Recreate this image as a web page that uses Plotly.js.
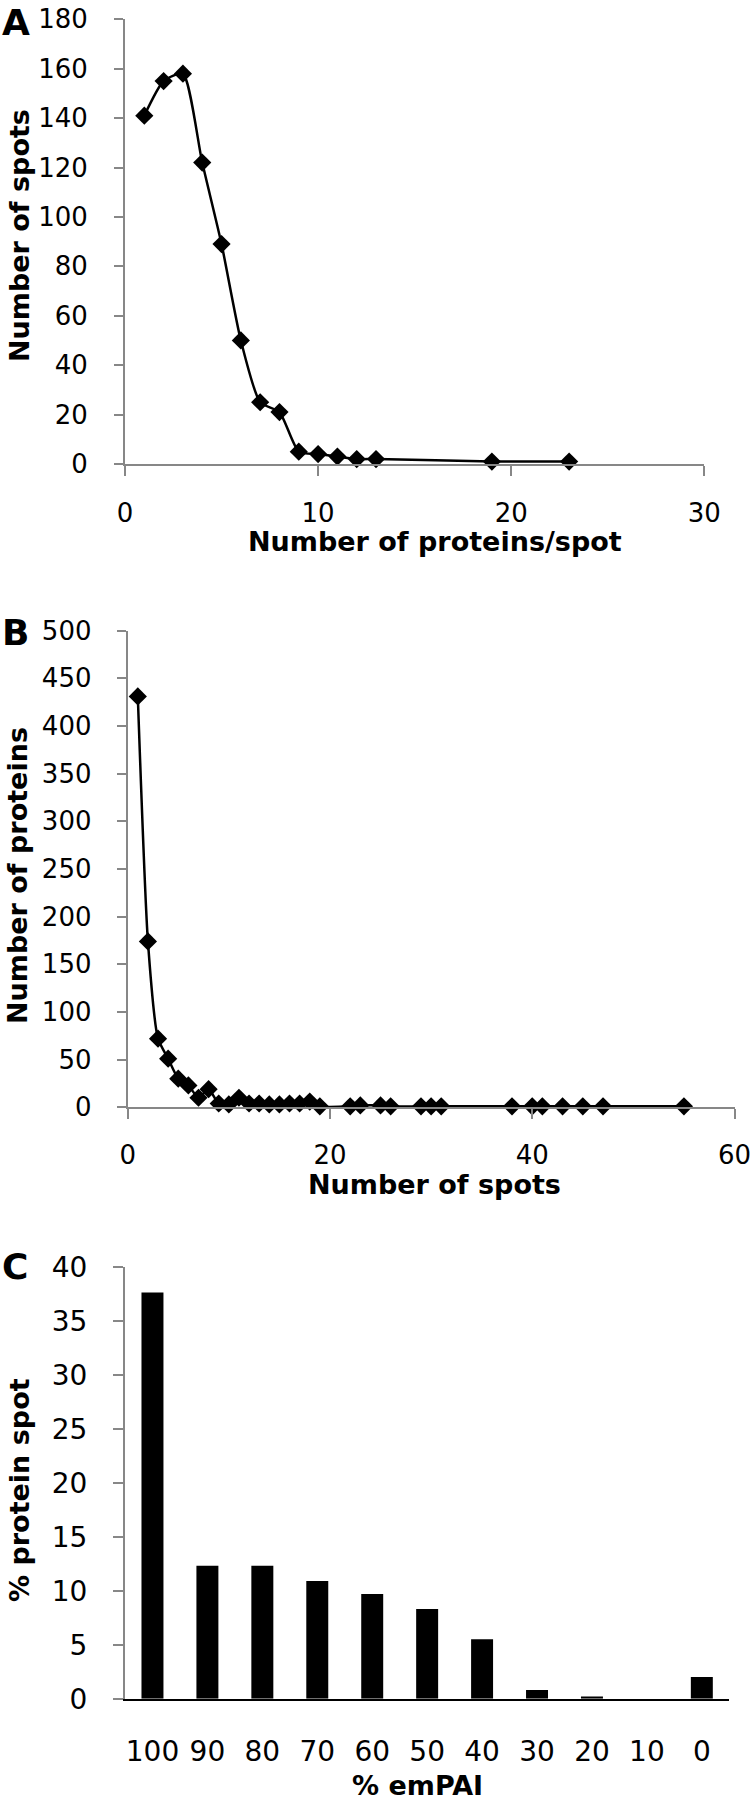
<!DOCTYPE html>
<html>
<head>
<meta charset="utf-8">
<script src="https://cdn.plot.ly/plotly-3.0.1.min.js"></script>
<style>html,body{margin:0;padding:0;background:#fff}</style>
</head>
<body>
<div id="chart" style="width:750px;height:1800px"></div>
<script>
// Panel A: number of proteins per spot vs number of spots
const proteinsPerSpot = [1, 2, 3, 4, 5, 6, 7, 8, 9, 10, 11, 12, 13, 19, 23];
const spotCounts = [141, 155, 158, 122, 89, 50, 25, 21, 5, 4, 3, 2, 2, 1, 1];

// Panel B: number of spots per protein vs number of proteins
const spotsPerProtein = [1, 2, 3, 4, 5, 6, 7, 8, 9, 10, 11, 12, 13, 14, 15, 16, 17, 18, 19,
  22, 23, 25, 26, 29, 30, 31, 38, 40, 41, 43, 45, 47, 55];
const proteinCounts = [431, 174, 72, 51, 30, 23, 10, 19, 4, 3, 10, 4, 4, 3, 3, 4, 4, 6, 1,
  1, 2, 2, 1, 1, 1, 1, 1, 1, 1, 1, 1, 1, 1];

// Panel C: % emPAI categories vs % protein spot
const empaiCategories = ["100", "90", "80", "70", "60", "50", "40", "30", "20", "10", "0"];
const proteinSpotPct = [37.6, 12.3, 12.3, 10.9, 9.7, 8.3, 5.5, 0.8, 0.2, 0, 2.0];

// Texts
const panelLetters = ["A", "B", "C"];
const xTitles = ["Number of proteins/spot", "Number of spots", "% emPAI"];
const yTitles = ["Number of spots", "Number of proteins", "% protein spot"];

const TICKFONT = 'DejaVu Sans, Liberation Sans, Arial, sans-serif';
const TITLEFONT = 'DejaVu Sans, Liberation Sans, Arial, sans-serif';
const AXGRAY = '#878787';

const lineStyle = {color: '#000', width: 2.5, shape: 'spline', smoothing: 0.6};
const markerStyle = {symbol: 'diamond', size: 14, color: '#000'};

const traces = [
  {x: proteinsPerSpot, y: spotCounts, type: 'scatter', mode: 'lines+markers',
   line: lineStyle, marker: markerStyle, xaxis: 'x', yaxis: 'y', cliponaxis: false},
  {x: spotsPerProtein, y: proteinCounts, type: 'scatter', mode: 'lines+markers',
   line: lineStyle, marker: markerStyle, xaxis: 'x2', yaxis: 'y2', cliponaxis: false},
  {x: empaiCategories, y: proteinSpotPct, type: 'bar', marker: {color: '#000'},
   xaxis: 'x3', yaxis: 'y3'}
];

function numAxis(extra) {
  return Object.assign({
    showgrid: false, zeroline: false, showline: true,
    linecolor: AXGRAY, linewidth: 2,
    ticks: 'outside', ticklen: 9, tickwidth: 2, tickcolor: AXGRAY,
    tickfont: {family: TICKFONT, size: 26, color: '#000'},
    ticklabeloverflow: 'allow',
    fixedrange: true
  }, extra);
}

const H = 1800, W = 750;
const titleFont = {family: TITLEFONT, size: 27, color: '#000', weight: 'bold'};
const letterFont = {family: TITLEFONT, size: 36, color: '#000', weight: 'bold'};

function ann(text, px, py, extra) {
  return Object.assign({text: text, xref: 'paper', yref: 'paper', x: px / W, y: 1 - py / H,
    xanchor: 'center', yanchor: 'middle', showarrow: false, font: titleFont}, extra || {});
}

const layout = {
  width: W, height: H,
  margin: {l: 0, r: 0, t: 0, b: 0},
  paper_bgcolor: '#fff', plot_bgcolor: '#fff',
  showlegend: false,
  bargap: 0.6,
  xaxis: numAxis({domain: [125 / W, 704.3 / W], anchor: 'y', range: [0, 30], dtick: 10, tick0: 0,
    ticklen: 10, ticklabelstandoff: 15}),
  yaxis: numAxis({domain: [1 - 464 / H, 1 - 19.3 / H], anchor: 'x', range: [0, 180], dtick: 20, tick0: 0,
    ticklabelstandoff: 21}),
  xaxis2: numAxis({domain: [127.7 / W, 734.5 / W], anchor: 'y2', range: [0, 60], dtick: 20, tick0: 0,
    ticklen: 10, ticklabelstandoff: 13}),
  yaxis2: numAxis({domain: [1 - 1107.3 / H, 1 - 630.7 / H], anchor: 'x2', range: [0, 500], dtick: 50, tick0: 0,
    ticklabelstandoff: 20}),
  xaxis3: {domain: [125 / W, 729.3 / W], anchor: 'y3', type: 'category',
    showgrid: false, zeroline: false, showline: true, linecolor: '#000', linewidth: 2.5,
    ticks: '', ticklabelstandoff: 26, ticklabeloverflow: 'allow',
    tickfont: {family: TICKFONT, size: 28, color: '#000'}, fixedrange: true},
  yaxis3: numAxis({domain: [1 - 1698.7 / H, 1 - 1266.7 / H], anchor: 'x3', range: [0, 40], dtick: 5, tick0: 0,
    ticklen: 10, ticklabelstandoff: 20, tickfont: {family: TICKFONT, size: 28, color: '#000'}}),
  annotations: [
    // panel letters
    ann(panelLetters[0], 0, 0, {xanchor: 'left', yanchor: 'top', font: letterFont}),
    ann(panelLetters[1], 0, 632, {xanchor: 'left', font: letterFont}),
    ann(panelLetters[2], 0, 1266, {xanchor: 'left', font: letterFont}),
    // x-axis titles
    ann(xTitles[0], 435, 541),
    ann(xTitles[1], 435, 1184),
    ann(xTitles[2], 417, 1785),
    // y-axis titles
    ann(yTitles[0], 19, 236, {textangle: -90}),
    ann(yTitles[1], 17, 876, {textangle: -90}),
    ann(yTitles[2], 19, 1490, {textangle: -90})
  ]
};

Plotly.newPlot('chart', traces, layout, {displayModeBar: false, staticPlot: true});
</script>
</body>
</html>
